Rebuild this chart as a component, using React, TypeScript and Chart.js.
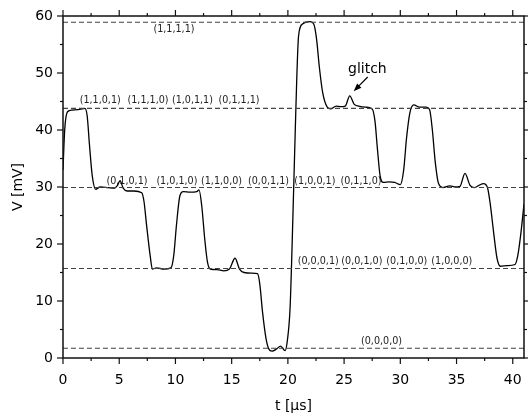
import React, { useEffect, useRef } from "react";
import { Chart, registerables } from "chart.js";

Chart.register(...registerables);

// ---- data ----
const timeUs = [
  0, 0.15, 0.4, 0.8, 1.5, 1.95, 2.15, 2.35, 2.6, 2.9, 3.3, 4.0, 4.6, 4.85, 5.07, 5.35, 5.7, 6.3, 7.0, 7.2,
  7.45, 7.75, 7.95, 8.3, 9.0, 9.6, 9.85, 10.1, 10.4, 10.7, 11.3, 11.9, 12.1, 12.35, 12.6, 12.85, 13.1, 13.7,
  14.3, 14.8, 15.3, 15.7, 16.1, 16.8, 17.3, 17.5, 17.75, 18.05, 18.3, 18.6, 19.0, 19.35, 19.75, 19.95, 20.2,
  20.45, 20.7, 20.95, 21.3, 22.0, 22.3, 22.55, 22.8, 23.1, 23.5, 23.8, 24.3, 24.7, 25.1, 25.5, 25.9, 26.3,
  26.9, 27.5, 27.75, 27.95, 28.2, 28.5, 29.0, 29.5, 30.0, 30.3, 30.55, 30.85, 31.2, 31.7, 32.3, 32.6, 32.85,
  33.1, 33.4, 33.8, 34.4, 34.9, 35.3, 35.75, 36.2, 36.6, 37.0, 37.4, 37.75, 38.0, 38.3, 38.6, 38.9, 39.5,
  40.2, 40.45, 40.7, 41,
];
const voltageMv = [
  33, 40, 43.2, 43.5, 43.6, 43.8, 42.5, 37.5, 32, 29.6, 30.0, 29.9, 29.8, 30.3, 31.1, 29.8, 29.3, 29.3, 29.0, 27.5,
  23, 18, 15.6, 15.8, 15.6, 15.8, 18, 23.5, 28.5, 29.2, 29.1, 29.2, 29.5, 26.5, 21, 16.8, 15.6, 15.5,
  15.3, 15.6, 17.5, 15.6, 15.0, 14.9, 14.8, 13, 8, 3.5, 1.6, 1.2, 1.6, 2.1, 1.3, 3, 9,
  25, 43, 56.5, 58.6, 59.0, 58.6, 56, 51, 46.5, 44, 43.7, 44.2, 44.1, 44.2, 46.0, 44.5, 44.2,
  44.0, 43.7, 41.5, 37, 32, 30.8, 30.9, 30.8, 30.4, 33, 38.5, 43, 44.4, 44.0, 44.0, 43.6, 40,
  34.5, 30.6, 29.9, 30.2, 30.0, 30.1, 32.4, 30.3, 29.9, 30.3, 30.6, 29.9, 27, 22, 17.5, 16.1, 16.2,
  16.4, 18, 21.5, 27,
];
const levelValues = [58.9, 43.8, 29.9, 15.7, 1.7];

const stateLabels = [
  "(1,1,1,1)",
  "(1,1,0,1)", "(1,1,1,0)", "(1,0,1,1)", "(0,1,1,1)",
  "(0,1,0,1)", "(1,0,1,0)", "(1,1,0,0)", "(0,0,1,1)", "(1,0,0,1)", "(0,1,1,0)",
  "(0,0,0,1)", "(0,0,1,0)", "(0,1,0,0)", "(1,0,0,0)",
  "(0,0,0,0)",
];
const stateLabelT = [
  9.87,
  3.31, 7.56, 11.51, 15.66,
  5.69, 10.13, 14.1, 18.28, 22.4, 26.5,
  22.7, 26.58, 30.58, 34.58,
  28.33,
];
const stateLabelV = [
  57.7,
  45.1, 45.1, 45.1, 45.1,
  31.05, 31.05, 31.05, 31.05, 31.05, 31.05,
  17.0, 17.0, 17.0, 17.0,
  2.86,
];
const glitchLabel = "glitch";
const glitchLabelAt = [27.07, 50.6];
const glitchArrowFrom = [27.1, 49.3];
const glitchArrowTo = [25.85, 46.8];

const xMin = 0;
const xMax = 41;
const yMin = 0;
const yMax = 60;
const xMajorStep = 5;
const xMinorStep = 2.5;
const yMajorStep = 10;
const yMinorStep = 5;

const FONT = "'DejaVu Sans', sans-serif";

const decorPlugin = {
  id: "decor",
  beforeDatasetsDraw(chart: any) {
    const { ctx, scales } = chart;
    const x = scales.x;
    const y = scales.y;
    ctx.save();
    ctx.fillStyle = "#222";
    ctx.font = `9.6px ${FONT}`;
    ctx.textAlign = "center";
    ctx.textBaseline = "middle";
    stateLabels.forEach((s, i) => {
      ctx.fillText(s, x.getPixelForValue(stateLabelT[i]), y.getPixelForValue(stateLabelV[i]));
    });
    ctx.restore();
  },
  afterDatasetsDraw(chart: any) {
    const { ctx, chartArea: a, scales } = chart;
    const x = scales.x;
    const y = scales.y;
    ctx.save();
    // glitch label + arrow
    ctx.fillStyle = "#000";
    ctx.font = `14px ${FONT}`;
    ctx.textAlign = "center";
    ctx.textBaseline = "middle";
    ctx.fillText(glitchLabel, x.getPixelForValue(glitchLabelAt[0]), y.getPixelForValue(glitchLabelAt[1]));
    const x1 = x.getPixelForValue(glitchArrowFrom[0]);
    const y1 = y.getPixelForValue(glitchArrowFrom[1]);
    const x2 = x.getPixelForValue(glitchArrowTo[0]);
    const y2 = y.getPixelForValue(glitchArrowTo[1]);
    const ang = Math.atan2(y2 - y1, x2 - x1);
    const hl = 8;
    const hw = 3;
    ctx.strokeStyle = "#000";
    ctx.lineWidth = 1.2;
    ctx.beginPath();
    ctx.moveTo(x1, y1);
    ctx.lineTo(x2 - Math.cos(ang) * hl * 0.8, y2 - Math.sin(ang) * hl * 0.8);
    ctx.stroke();
    ctx.beginPath();
    ctx.moveTo(x2, y2);
    ctx.lineTo(x2 - Math.cos(ang) * hl - Math.sin(ang) * hw, y2 - Math.sin(ang) * hl + Math.cos(ang) * hw);
    ctx.lineTo(x2 - Math.cos(ang) * hl + Math.sin(ang) * hw, y2 - Math.sin(ang) * hl - Math.cos(ang) * hw);
    ctx.closePath();
    ctx.fill();

    // frame
    ctx.strokeStyle = "#111";
    ctx.lineWidth = 1.5;
    ctx.strokeRect(a.left, a.top, a.right - a.left, a.bottom - a.top);
    // ticks
    ctx.lineWidth = 1.2;
    const seg = (ax: number, ay: number, bx: number, by: number) => {
      ctx.beginPath();
      ctx.moveTo(ax, ay);
      ctx.lineTo(bx, by);
      ctx.stroke();
    };
    for (let v = xMin; v <= xMax + 1e-9; v += xMinorStep) {
      const px = x.getPixelForValue(v);
      const len = Math.abs(v / xMajorStep - Math.round(v / xMajorStep)) < 1e-6 ? 6 : 3;
      seg(px, a.bottom, px, a.bottom + len);
      seg(px, a.top, px, a.top - len);
    }
    for (let v = yMin; v <= yMax + 1e-9; v += yMinorStep) {
      const py = y.getPixelForValue(v);
      const len = Math.abs(v / yMajorStep - Math.round(v / yMajorStep)) < 1e-6 ? 6 : 3;
      seg(a.left, py, a.left - len, py);
      seg(a.right, py, a.right + len, py);
    }
    ctx.restore();
  },
};

export default function App() {
  const ref = useRef<HTMLCanvasElement>(null);
  useEffect(() => {
    const levelSets = levelValues.map((v) => ({
      data: [
        { x: xMin, y: v },
        { x: xMax, y: v },
      ],
      borderColor: "#444",
      borderWidth: 1.1,
      borderDash: [5, 3],
      pointRadius: 0,
      fill: false,
    }));
    const chart = new Chart(ref.current!, {
      type: "line",
      data: {
        datasets: [
          ...levelSets,
          {
            data: timeUs.map((t, i) => ({ x: t, y: voltageMv[i] })),
            borderColor: "#000",
            borderWidth: 1.3,
            pointRadius: 0,
            fill: false,
            cubicInterpolationMode: "monotone",
          },
        ] as any,
      },
      options: {
        responsive: false,
        animation: false,
        devicePixelRatio: 1,
        layout: { padding: { top: 16, right: 4, left: 0, bottom: 0 } },
        plugins: { legend: { display: false }, tooltip: { enabled: false } },
        scales: {
          x: {
            type: "linear",
            min: xMin,
            max: xMax,
            grid: { display: false, drawTicks: false, tickLength: 0 },
            border: { display: false },
            ticks: {
              stepSize: xMajorStep,
              includeBounds: false,
              autoSkip: false,
              maxRotation: 0,
              color: "#000",
              padding: 14,
              font: { family: FONT, size: 14 },
            },
            title: {
              display: true,
              text: "t [µs]",
              color: "#000",
              font: { family: FONT, size: 14 },
              padding: { top: 0, bottom: 3 },
            },
            afterFit: (s: any) => {
              s.height = 60;
              s.paddingLeft = 0;
              s.paddingRight = 0;
            },
          },
          y: {
            type: "linear",
            min: yMin,
            max: yMax,
            grid: { display: false, drawTicks: false, tickLength: 0 },
            border: { display: false },
            ticks: {
              stepSize: yMajorStep,
              color: "#000",
              padding: 10,
              font: { family: FONT, size: 14 },
            },
            title: {
              display: true,
              text: "V [mV]",
              color: "#000",
              font: { family: FONT, size: 14 },
              padding: { top: 10, bottom: 0 },
            },
            afterFit: (s: any) => {
              s.width = 63;
              s.paddingTop = 0;
              s.paddingBottom = 0;
            },
          },
        },
      } as any,
      plugins: [decorPlugin],
    });
    return () => chart.destroy();
  }, []);
  return (
    <div style={{ position: "absolute", left: 0, top: 0, width: 528, height: 418, background: "#fff" }}>
      <canvas ref={ref} width={528} height={418} style={{ width: 528, height: 418, display: "block" }} />
    </div>
  );
}
